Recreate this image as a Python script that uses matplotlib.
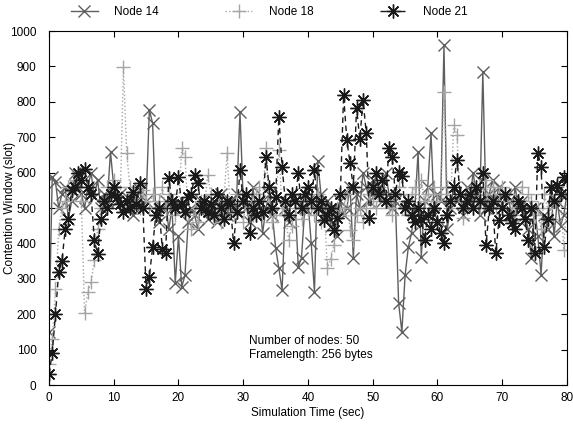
import matplotlib
matplotlib.use("Agg")
import matplotlib.pyplot as plt
import numpy as np

plt.rcParams['font.family'] = ['Liberation Sans', 'DejaVu Sans']

# sample times (one sample every 0.5 s)
time = np.arange(0, 80.5, 0.5)

node14 = [150, 588, 574, 500, 540, 560, 470, 520, 600, 560,
          540, 500, 560, 600, 530, 580, 500, 540, 520, 658,
          560, 520, 540, 490, 530, 500, 480, 520, 550, 500,
          520, 777, 740, 480, 460, 500, 520, 440, 500, 288,
          420, 277, 310, 460, 500, 480, 440, 520, 500, 470,
          500, 520, 460, 540, 500, 480, 520, 500, 540, 771,
          520, 500, 460, 560, 480, 520, 430, 500, 540, 480,
          387, 330, 268, 500, 460, 540, 520, 333, 360, 500,
          520, 400, 263, 633, 540, 480, 520, 450, 500, 420,
          520, 480, 500, 560, 359, 540, 500, 600, 560, 520,
          580, 540, 560, 520, 600, 540, 500, 520, 231, 150,
          311, 390, 430, 500, 658, 362, 520, 560, 711, 480,
          540, 520, 960, 440, 500, 560, 520, 540, 480, 560,
          520, 600, 540, 480, 885, 500, 540, 580, 520, 560,
          500, 540, 520, 480, 560, 500, 520, 480, 440, 359,
          500, 420, 311, 480, 440, 560, 420, 520, 450, 480,
          540]

node18 = [60, 130, 270, 440, 500, 520, 560, 540, 580, 600,
          520, 203, 262, 290, 353, 440, 500, 520, 560, 540,
          580, 560, 520, 898, 655, 560, 540, 520, 500, 550,
          520, 500, 540, 480, 520, 560, 500, 540, 520, 480,
          500, 670, 645, 480, 440, 500, 460, 520, 500, 593,
          540, 470, 500, 460, 520, 655, 500, 480, 540, 500,
          460, 520, 500, 480, 540, 560, 520, 669, 500, 460,
          480, 664, 500, 480, 410, 450, 500, 520, 470, 500,
          520, 500, 480, 540, 460, 500, 330, 355, 395, 500,
          480, 500, 540, 438, 410, 480, 500, 460, 500, 540,
          520, 500, 560, 540, 520, 500, 480, 540, 560, 500,
          520, 480, 540, 560, 500, 580, 520, 540, 500, 560,
          520, 540, 828, 560, 500, 734, 706, 520, 472, 500,
          540, 560, 520, 500, 540, 580, 520, 560, 500, 540,
          560, 520, 540, 500, 480, 520, 560, 500, 540, 520,
          480, 500, 440, 540, 500, 470, 520, 560, 540, 381,
          540]

node21 = [30, 90, 200, 320, 350, 440, 470, 550, 560, 600,
          580, 610, 560, 540, 410, 370, 470, 520, 500, 540,
          560, 530, 510, 490, 520, 500, 545, 510, 570, 500,
          270, 305, 390, 480, 500, 385, 372, 585, 520, 500,
          588, 510, 490, 530, 540, 593, 570, 500, 520, 490,
          510, 480, 540, 500, 470, 520, 510, 401, 490, 607,
          520, 540, 430, 500, 480, 520, 490, 644, 560, 500,
          530, 757, 616, 520, 480, 540, 520, 599, 500, 540,
          560, 520, 607, 500, 520, 466, 480, 500, 438, 472,
          540, 819, 692, 627, 560, 782, 695, 805, 712, 472,
          560, 600, 540, 580, 520, 669, 644, 540, 602, 590,
          500, 520, 480, 460, 500, 470, 410, 480, 440, 500,
          460, 430, 401, 480, 520, 560, 636, 540, 500, 520,
          540, 500, 560, 520, 599, 395, 500, 520, 373, 466,
          500, 540, 480, 458, 440, 520, 500, 470, 410, 500,
          373, 655, 616, 390, 470, 560, 520, 565, 540, 588,
          580]

fig = plt.figure(figsize=(5.73, 4.25), dpi=100)
ax = fig.add_axes([0.0855, 0.094, 0.904, 0.833])

ax.plot(time, node14, color='#5e5e5e', ls='-', lw=1.0, marker='x',
        ms=9, mew=1.0, label='Node 14')
ax.plot(time, node18, color='#a5a5a5', ls=':', lw=1.0, marker='+',
        ms=10, mew=1.0, label='Node 18')
ax.plot(time, node21, color='#1a1a1a', ls=(0, (4, 3)), lw=1.0,
        marker=(8, 2, 0), ms=10, mew=1.0, label='Node 21')

ax.set_xlim(0, 80)
ax.set_ylim(0, 1000)
ax.set_xticks(range(0, 81, 10))
ax.set_yticks(range(0, 1001, 100))
ax.tick_params(direction='in', top=True, right=True, length=4,
               labelsize=8.5, width=0.8)
ax.tick_params(axis='y', pad=9)
ax.tick_params(axis='x', pad=5)
ax.set_xlabel('Simulation Time (sec)', fontsize=8.5, labelpad=2)
fig.text(0.018, 0.51, 'Contention Window (slot)', fontsize=8.5,
         rotation=90, ha='center', va='center')

ax.text(30.9, 105, 'Number of nodes: 50\nFramelength: 256 bytes',
        fontsize=8.5, va='center', ha='left', linespacing=1.3)

fig.legend(loc='upper center', bbox_to_anchor=(0.47, 1.01), ncol=3,
           frameon=False, fontsize=8.5, handlelength=2.3,
           columnspacing=5.6, handletextpad=1.4)

fig.savefig('out.png', dpi=100)
